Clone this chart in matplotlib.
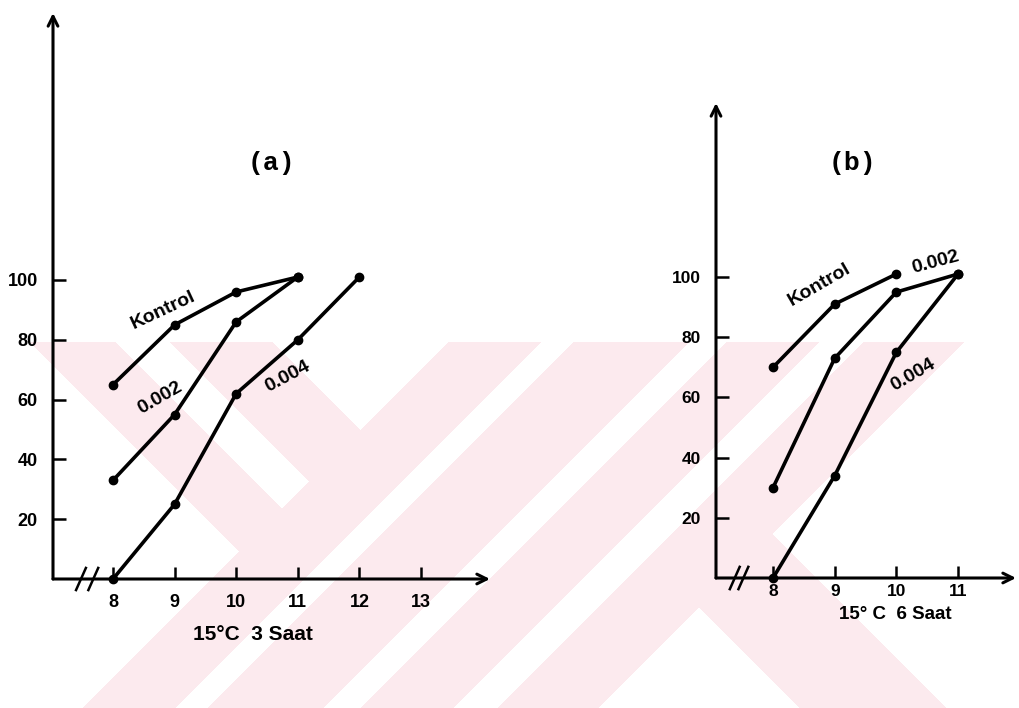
import matplotlib
matplotlib.use("Agg")
import matplotlib.pyplot as plt
import numpy as np

# germination (%) against hours, two treatments at 15 C
hours_a = [8, 9, 10, 11, 12, 13]
kontrol_a_x = [8, 9, 10, 11]
kontrol_a = [65, 85, 96, 101]
dose002_a_x = [8, 9, 10, 11]
dose002_a = [33, 55, 86, 101]
dose004_a_x = [8, 9, 10, 11, 12]
dose004_a = [0, 25, 62, 80, 101]

hours_b = [8, 9, 10, 11]
kontrol_b_x = [8, 9, 10]
kontrol_b = [70, 91, 101]
dose002_b_x = [8, 9, 10, 11]
dose002_b = [30, 73, 95, 101]
dose004_b_x = [8, 9, 10, 11]
dose004_b = [0, 34, 75, 101]

percent_ticks = [20, 40, 60, 80, 100]

W, H = 1020, 708
plt.rcParams["font.family"] = ["Liberation Sans", "DejaVu Sans"]

fig = plt.figure(figsize=(W / 100, H / 100), dpi=100)

# pale striped watermark in the lower part of the page
bg = fig.add_axes([0, 0, 1, 1], zorder=0)
yy, xx = np.mgrid[0:H, 0:W]
c = xx + yy
d = xx - yy
mask = np.zeros((H, W), bool)
for lo, hi in [(790, 882), (915, 1030), (1068, 1160), (1205, 1305)]:
    mask |= (c >= lo) & (c <= hi)
for lo, hi in [(-312, -227), (-172, -70)]:
    mask |= (c < 790) & (d >= lo) & (d <= hi)
mask |= (c > 1305) & (d >= 92) & (d <= 238)
mask &= yy >= 342
img = np.ones((H, W, 3))
img[mask] = np.array([252, 234, 238]) / 255
bg.imshow(img, extent=[0, W, H, 0], interpolation="nearest")
bg.set_xlim(0, W)
bg.set_ylim(H, 0)
bg.axis("off")


def panel(px, x8, xstep, y0, ystep, xtip, ytop, xticks, size, xpad):
    # place an axes so that data values land on the given pixel grid
    x_lo = 8 - (x8 - px) / xstep
    x_hi = 8 + (xtip - x8) / xstep
    y_hi = (y0 - ytop) / ystep
    ax = fig.add_axes([px / W, (H - y0) / H, (xtip - px) / W, (y0 - ytop) / H], zorder=1)
    ax.set_facecolor("none")
    ax.set_xlim(x_lo, x_hi)
    ax.set_ylim(0, y_hi)
    for s in ax.spines.values():
        s.set_visible(False)
    arrow = dict(arrowstyle="->, head_length=0.7, head_width=0.35", lw=2.2, color="black",
                 shrinkA=0, shrinkB=0)
    ax.annotate("", xy=(1, 0), xytext=(0, 0), xycoords="axes fraction", arrowprops=arrow)
    ax.annotate("", xy=(0, 1), xytext=(0, 0), xycoords="axes fraction", arrowprops=arrow)
    ax.set_xticks(xticks)
    ax.set_yticks(percent_ticks)
    ax.tick_params(direction="in", length=9, width=1.8, top=False, right=False)
    ax.tick_params(axis="x", pad=xpad, labelsize=size)
    ax.tick_params(axis="y", pad=11, labelsize=size)
    for lab in ax.get_xticklabels() + ax.get_yticklabels():
        lab.set_fontweight("bold")
    return ax


def series(ax, xs, ys):
    ax.plot(xs, ys, color="black", lw=2.6, marker="o", ms=6,
            solid_capstyle="round", solid_joinstyle="round", clip_on=False)


def axis_break(ax, centers):
    for cx in centers:
        ax.plot([cx - 0.08, cx + 0.08], [-3.7, 3.7], color="black", lw=1.8, clip_on=False)


txt = dict(color="black", fontweight="bold", ha="center", va="center", fontsize=14)
mono = dict(family=["Liberation Mono", "DejaVu Sans Mono"], fontsize=19, fontweight="bold",
            ha="center", va="center")

# (a) 3 hours
ax_a = panel(53, 113, 61.6, 579, 2.99, 490, 13, hours_a, 13, 11)
series(ax_a, kontrol_a_x, kontrol_a)
series(ax_a, dose002_a_x, dose002_a)
series(ax_a, dose004_a_x, dose004_a)
axis_break(ax_a, [7.48, 7.68])
ax_a.text(8.81, 90, "Kontrol", rotation=25, **txt)
ax_a.text(8.76, 60.5, "0.002", rotation=30, **txt)
ax_a.text(10.84, 67.6, "0.004", rotation=28, **txt)
ax_a.text(10.58, 139, "(a)", **mono)
ax_a.text(10.27, -18.7, "15°C  3 Saat", **dict(txt, fontsize=15))

# (b) 6 hours
ax_b = panel(716, 773, 61.7, 578, 3.01, 1016, 103, hours_b, 12.5, 4)
series(ax_b, kontrol_b_x, kontrol_b)
series(ax_b, dose002_b_x, dose002_b)
series(ax_b, dose004_b_x, dose004_b)
axis_break(ax_b, [7.38, 7.52])
ax_b.text(8.76, 97.3, "Kontrol", rotation=30, **txt)
ax_b.text(10.63, 105, "0.002", rotation=15, **txt)
ax_b.text(10.27, 67.4, "0.004", rotation=30, **txt)
ax_b.text(9.28, 138, "(b)", **mono)
ax_b.text(9.98, -12, "15° C  6 Saat", **dict(txt, fontsize=13.5))

fig.savefig("out.png", dpi=100)
